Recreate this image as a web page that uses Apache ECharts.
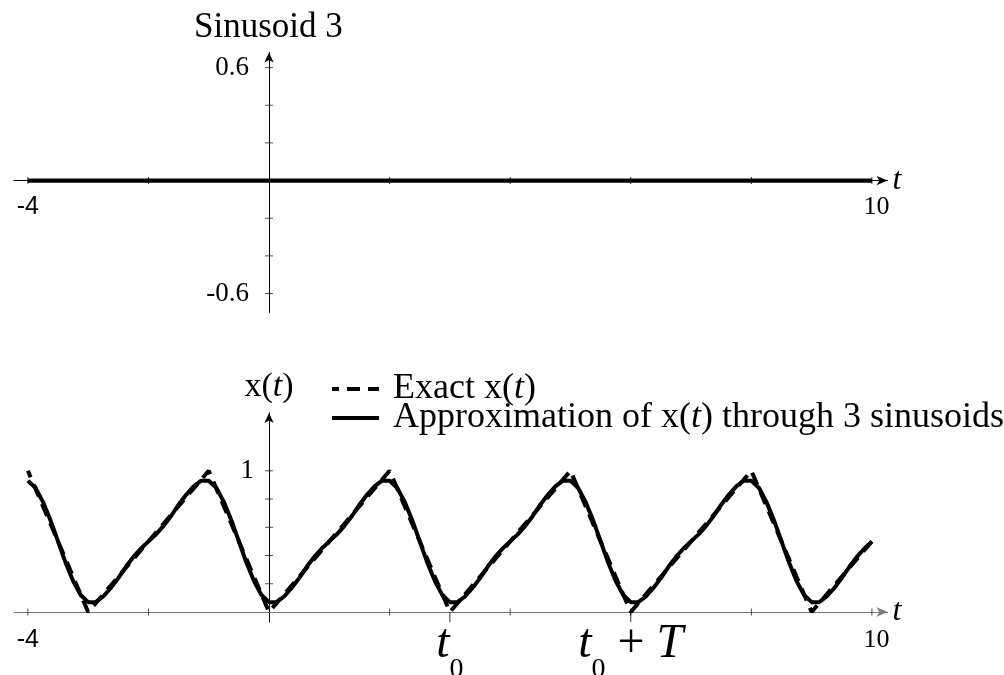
<!DOCTYPE html>
<html>
<head>
<meta charset="utf-8">
<script src="https://cdn.jsdelivr.net/npm/echarts@6/dist/echarts.min.js"></script>
<style>
  html, body { margin: 0; padding: 0; background: #fff; }
  #chart { width: 1004px; height: 675px; }
</style>
</head>
<body>
<div id="chart"></div>
<script>
// ---- time axis ----
const T_MIN = -4;
const xTickValues = [-4, -2, 2, 4, 6, 8, 10];
const periodTickValues = [3, 6];            // t0 and t0 + T
const topXLabelValues = [-4, 10];
const bottomXLabelValues = [-4, 3, 6, 10];

// ---- Sinusoid 3 panel ----
const sin3T = [-4, 10];
const sin3Values = [0, 0];
const sin3TickValues = [-0.6, -0.4, -0.2, 0.2, 0.4, 0.6];
const sin3LabelValues = [-0.6, 0.6];

// ---- x(t) panel ----
// exact periodic signal, corner points
const exactT = [-4, -3, -1, 0, 2, 3, 5, 6, 8, 9, 10];
const exactX = [1, 0, 1, 0, 1, 0, 1, 0, 1, 0, 0.5];

// approximation through 3 sinusoids, one sample every 0.125 from t = -4 to t = 10
const APPROX_STEP = 0.125;
const approxX = [
  0.93, 0.88, 0.78, 0.65, 0.50, 0.35, 0.22, 0.12,
  0.07, 0.07, 0.11, 0.17, 0.24, 0.32, 0.39, 0.45, 0.50, 0.55, 0.61, 0.68,
  0.76, 0.83, 0.89, 0.93, 0.93, 0.88, 0.78, 0.65, 0.50, 0.35, 0.22, 0.12,
  0.07, 0.07, 0.11, 0.17, 0.24, 0.32, 0.39, 0.45, 0.50, 0.55, 0.61, 0.68,
  0.76, 0.83, 0.89, 0.93, 0.93, 0.88, 0.78, 0.65, 0.50, 0.35, 0.22, 0.12,
  0.07, 0.07, 0.11, 0.17, 0.24, 0.32, 0.39, 0.45, 0.50, 0.55, 0.61, 0.68,
  0.76, 0.83, 0.89, 0.93, 0.93, 0.88, 0.78, 0.65, 0.50, 0.35, 0.22, 0.12,
  0.07, 0.07, 0.11, 0.17, 0.24, 0.32, 0.39, 0.45, 0.50, 0.55, 0.61, 0.68,
  0.76, 0.83, 0.89, 0.93, 0.93, 0.88, 0.78, 0.65, 0.50, 0.35, 0.22, 0.12,
  0.07, 0.07, 0.11, 0.17, 0.24, 0.32, 0.39, 0.45, 0.50
];
const signalTickValues = [0.2, 0.4, 0.6, 0.8, 1];
const signalLabelValues = [1];

const EXACT_NAME = 'Exact x(t)';
const APPROX_NAME = 'Approximation of x(t) through 3 sinusoids';

// ---- layout ----
const X_RANGE = [-4.23, 10.26];
const TOP_Y_RANGE = [-0.7, 0.68];
const BOTTOM_Y_RANGE = [-0.07, 1.41];
const topGrid = { left: 14, top: 52.5, width: 873.6, height: 259.9 };
const bottomGrid = { left: 14, top: 412.9, width: 873.6, height: 209 };

// axes cross at the origin: shift each axis from the grid edge to the zero line
const xAxisShift = (g, yr) => -g.height * (0 - yr[0]) / (yr[1] - yr[0]);
const yAxisShift = (g, xr) => -g.width * (0 - xr[0]) / (xr[1] - xr[0]);

// ---- helpers ----
const SERIF = '"Liberation Serif", "Times New Roman", serif';
const SANS = '"Liberation Sans", Arial, sans-serif';
const pairs = (ts, vs) => ts.map((t, i) => [t, vs[i]]);
const approxData = approxX.map((v, i) => [T_MIN + i * APPROX_STEP, v]);

function tickMarks(xIdx, yIdx, data, size, offset, color) {
  return {
    type: 'scatter', xAxisIndex: xIdx, yAxisIndex: yIdx, data: data,
    symbol: 'rect', symbolSize: size, symbolOffset: offset || [0, 0],
    itemStyle: { color: color || '#000' }, silent: true, z: 3,
    emphasis: { disabled: true }
  };
}

const tickLabelRich = {
  s: { fontFamily: SANS, fontSize: 25, lineHeight: 40, color: '#000' },
  n: { fontFamily: SERIF, fontSize: 26, lineHeight: 40, color: '#000', padding: [0, 0, 0, 9] },
  bt: { fontFamily: SERIF, fontStyle: 'italic', fontSize: 48, lineHeight: 44, verticalAlign: 'top', color: '#000' },
  s0: { fontFamily: SERIF, fontSize: 28, lineHeight: 64, verticalAlign: 'bottom', color: '#000' },
  pl: { fontFamily: SERIF, fontSize: 48, lineHeight: 44, verticalAlign: 'top', color: '#000' },
  bT: { fontFamily: SERIF, fontStyle: 'italic', fontSize: 48, lineHeight: 44, verticalAlign: 'top', color: '#000' }
};

function xLabel(v) {
  if (v === periodTickValues[0]) return '{bt|t}{s0|0}';
  if (v === periodTickValues[1]) return '{bt|t}{s0|0}{pl| + }{bT|T}';
  return v < 0 ? '{s|' + v + '}' : '{n|' + v + '}';
}

const tName = { fontFamily: SERIF, fontStyle: 'italic', fontSize: 32, color: '#000' };

function xAxisDef(gridIndex, grid, yr, labels, lineColor, margin) {
  return {
    gridIndex: gridIndex, type: 'value', min: X_RANGE[0], max: X_RANGE[1],
    position: 'bottom', offset: xAxisShift(grid, yr),
    axisLine: { onZero: false, symbol: ['none', 'arrow'], symbolSize: [7, 11], lineStyle: { color: lineColor, width: 1 } },
    axisTick: { show: false }, splitLine: { show: false },
    axisLabel: { customValues: labels, formatter: xLabel, margin: margin, rich: tickLabelRich },
    name: 't', nameLocation: 'end', nameGap: 5, nameTextStyle: tName, nameMoveOverlap: false
  };
}

const yLabelStyle = { fontFamily: SERIF, fontSize: 27, color: '#000', padding: [6, 0, 0, 0] };

const chart = echarts.init(document.getElementById('chart'), null, { renderer: 'canvas' });

chart.setOption({
  animation: false,
  backgroundColor: '#fff',
  title: {
    text: 'Sinusoid 3',
    left: 194, top: 8, padding: 0,
    textStyle: { fontFamily: SERIF, fontSize: 35, fontWeight: 'normal', color: '#000', lineHeight: 40 }
  },
  legend: {
    data: [EXACT_NAME, APPROX_NAME],
    orient: 'vertical',
    left: 330, top: 371, padding: 0, itemGap: -7,
    itemWidth: 47, itemHeight: 14,
    selectedMode: false,
    lineStyle: { width: 4 },
    itemStyle: { color: 'rgba(0,0,0,0)', borderColor: 'rgba(0,0,0,0)', borderWidth: 0, opacity: 0 },
    formatter: name => ' ' + name.replace('(t)', '({it|t})'),
    textStyle: {
      fontFamily: SERIF, fontSize: 36, lineHeight: 30, color: '#000',
      rich: { it: { fontFamily: SERIF, fontStyle: 'italic', fontSize: 36, lineHeight: 30, color: '#000' } }
    }
  },
  grid: [
    Object.assign({ outerBoundsMode: 'none' }, topGrid),
    Object.assign({ outerBoundsMode: 'none' }, bottomGrid)
  ],
  xAxis: [
    xAxisDef(0, topGrid, TOP_Y_RANGE, topXLabelValues, '#000', 7),
    xAxisDef(1, bottomGrid, BOTTOM_Y_RANGE, bottomXLabelValues, '#7a7a7a', 8)
  ],
  yAxis: [
    {
      gridIndex: 0, type: 'value', min: TOP_Y_RANGE[0], max: TOP_Y_RANGE[1],
      position: 'left', offset: yAxisShift(topGrid, X_RANGE),
      axisLine: { show: true, onZero: false, symbol: ['none', 'arrow'], symbolSize: [7, 10], lineStyle: { color: '#000', width: 1 } },
      axisTick: { show: false }, splitLine: { show: false },
      axisLabel: Object.assign({ customValues: sin3LabelValues, formatter: v => v.toFixed(1), margin: 20 }, yLabelStyle)
    },
    {
      gridIndex: 1, type: 'value', min: BOTTOM_Y_RANGE[0], max: BOTTOM_Y_RANGE[1],
      position: 'left', offset: yAxisShift(bottomGrid, X_RANGE),
      axisLine: { show: true, onZero: false, symbol: ['none', 'arrow'], symbolSize: [7, 10], lineStyle: { color: '#000', width: 1 } },
      axisTick: { show: false }, splitLine: { show: false },
      axisLabel: Object.assign({ customValues: signalLabelValues, formatter: v => String(v), margin: 15 }, yLabelStyle),
      name: '{n|x(}{it|t}{n|)}', nameLocation: 'end', nameGap: 9, nameMoveOverlap: false,
      nameTextStyle: {
        rich: {
          n: { fontFamily: SERIF, fontSize: 34, lineHeight: 34, color: '#000' },
          it: { fontFamily: SERIF, fontStyle: 'italic', fontSize: 34, lineHeight: 34, color: '#000' }
        }
      }
    }
  ],
  series: [
    {
      name: 'Sinusoid 3', type: 'line', xAxisIndex: 0, yAxisIndex: 0,
      data: pairs(sin3T, sin3Values), symbol: 'none',
      lineStyle: { color: '#000', width: 4.3 }, z: 2, silent: true
    },
    {
      name: APPROX_NAME, type: 'line', xAxisIndex: 1, yAxisIndex: 1,
      data: approxData, symbol: 'none',
      itemStyle: { color: '#000' },
      lineStyle: { color: '#000', width: 4 }, z: 2, silent: true
    },
    {
      name: EXACT_NAME, type: 'line', xAxisIndex: 1, yAxisIndex: 1,
      data: pairs(exactT, exactX), symbol: 'none',
      itemStyle: { color: '#000' },
      lineStyle: { color: '#000', width: 4, type: [13, 8], dashOffset: 6 }, z: 2, silent: true
    },
    tickMarks(0, 0, xTickValues.map(t => [t, 0]), [1, 7]),
    tickMarks(0, 0, sin3TickValues.map(v => [0, v]), [8, 1], null, '#222'),
    tickMarks(1, 1, xTickValues.map(t => [t, 0]), [1, 7], null, '#222'),
    tickMarks(1, 1, periodTickValues.map(t => [t, 0]), [1, 10], [0, 5], '#000'),
    tickMarks(1, 1, signalTickValues.map(v => [0, v]), [8, 1], null, '#222')
  ]
});
</script>
</body>
</html>
